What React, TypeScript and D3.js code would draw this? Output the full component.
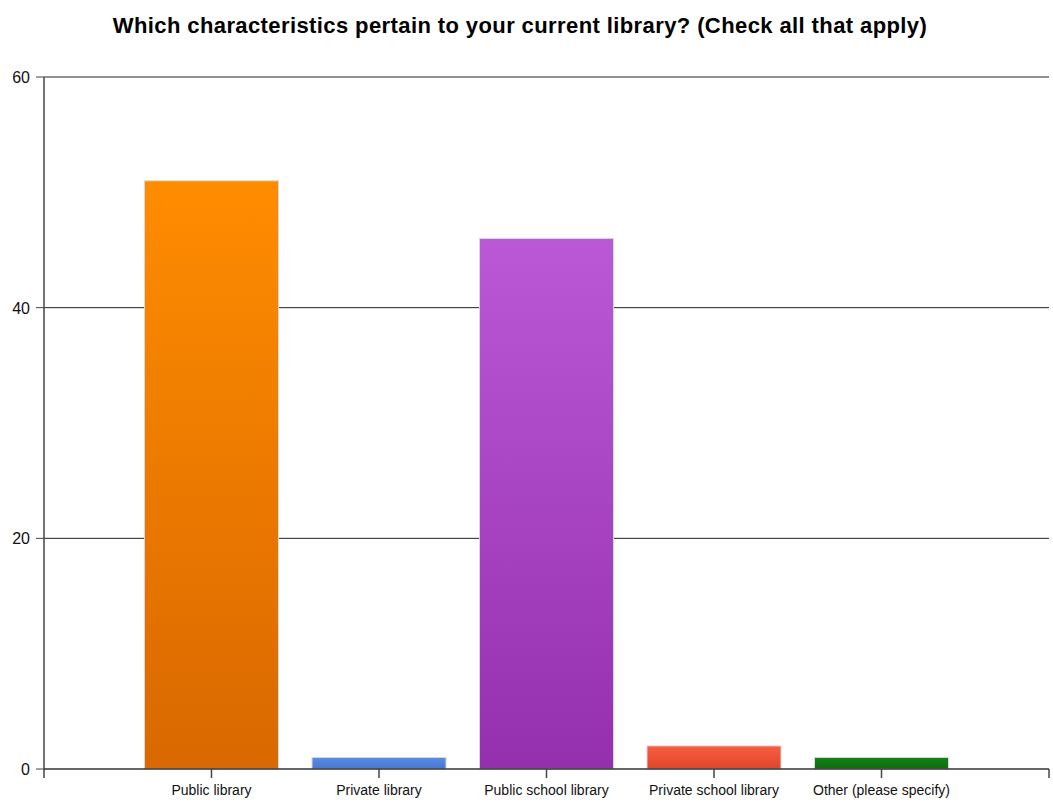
import React from 'react';
import * as d3 from 'd3';

const categories = ['Public library', 'Private library', 'Public school library', 'Private school library', 'Other (please specify)'];
const counts = [51, 1, 46, 2, 1];
const yTicks = [0, 20, 40, 60];
// top / bottom colour of each bar's gradient
const barTop = ['#ff8c00', '#5a8de2', '#bb58d6', '#f85e42', '#168016'];
const barBottom = ['#d96800', '#4677d2', '#9430ae', '#e0452a', '#0b6e0b'];

const W = 1053;
const H = 804;
const left = 44;
const right = 1049;
const top = 77;
const bottom = 769;

const App: React.FC = () => {
  // one slot before and after the categories, like the original chart's axis
  const x = d3
    .scalePoint<string>()
    .domain(['__start', ...categories, '__end'])
    .range([left, right]);
  const step = x.step();
  const barW = step * 0.8;
  const y = d3.scaleLinear().domain([0, 60]).range([bottom, top]);
  const axisTicks = ['__start', ...categories, '__end'];

  return (
    <svg width={W} height={H} style={{ display: 'block', position: 'absolute', left: 0, top: 0 }} fontFamily="'Liberation Sans', Arial, sans-serif">
      <defs>
        {categories.map((c, i) => (
          <linearGradient key={c} id={`g${i}`} x1="0" y1="0" x2="0" y2="1">
            <stop offset="0%" stopColor={barTop[i]} />
            <stop offset="100%" stopColor={barBottom[i]} />
          </linearGradient>
        ))}
      </defs>
      <rect width={W} height={H} fill="#fff" />
      <text x={520} y={33} textAnchor="middle" fontSize={22} fontWeight="bold" letterSpacing={0.4} fill="#000">
        Which characteristics pertain to your current library? (Check all that apply)
      </text>

      {yTicks.map((t) => (
        <g key={t}>
          {t > 0 && <line x1={left} x2={right} y1={y(t)} y2={y(t)} stroke="#222" strokeWidth={1} />}
          <line x1={left - 8} x2={left} y1={y(t)} y2={y(t)} stroke="#444" strokeWidth={1} />
          <text x={30} y={y(t) + 6} textAnchor="end" fontSize={16} fill="#111">
            {t}
          </text>
        </g>
      ))}

      {categories.map((c, i) => (
        <rect
          key={c}
          x={(x(c) as number) - barW / 2}
          y={y(counts[i])}
          width={barW}
          height={bottom - y(counts[i])}
          fill={`url(#g${i})`}
          stroke="#d8d8d8"
          strokeWidth={1}
        />
      ))}

      <line x1={left} x2={left} y1={top} y2={bottom + 9} stroke="#444" strokeWidth={1.5} />
      <line x1={left} x2={right} y1={bottom} y2={bottom} stroke="#333" strokeWidth={1.5} />
      {axisTicks.slice(1).map((k) => (
        <line key={k} x1={x(k)} x2={x(k)} y1={bottom} y2={bottom + 9} stroke="#444" strokeWidth={1.5} />
      ))}
      {categories.map((c) => (
        <text key={c} x={x(c)} y={795} textAnchor="middle" fontSize={14} fill="#111">
          {c}
        </text>
      ))}
    </svg>
  );
};

export default App;
